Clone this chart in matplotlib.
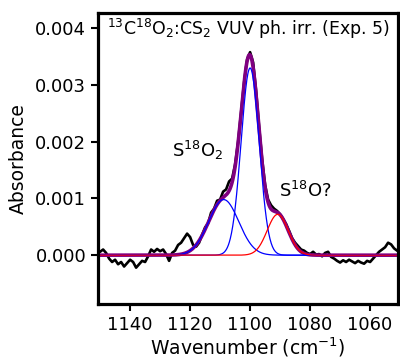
import numpy as np
import matplotlib
matplotlib.use("Agg")
import matplotlib.pyplot as plt

wavenumber = np.arange(1151, 1049, -1)
absorbance = [
    0.00008, 0.00006, 0.00010, 0.00004, -0.00006, -0.00012, -0.00008, -0.00016,
    -0.00012, -0.00020, -0.00014, -0.00008, -0.00012, -0.00022, -0.00016, -0.00010,
    -0.00012, -0.00002, 0.00010, 0.00006, 0.00011, 0.00007, 0.00010, 0.00002,
    -0.00010, 0.00004, 0.00008, 0.00018, 0.00022, 0.00030, 0.00038, 0.00032,
    0.00018, 0.00015, 0.00022, 0.00036, 0.00049, 0.00056, 0.00075, 0.00082,
    0.00096, 0.00098, 0.00112, 0.00116, 0.00130, 0.00135, 0.00160, 0.00200,
    0.00252, 0.00305, 0.00345, 0.00358, 0.00340, 0.00290, 0.00226, 0.00170,
    0.00124, 0.00098, 0.00088, 0.00082, 0.00078, 0.00072, 0.00064, 0.00055,
    0.00043, 0.00030, 0.00022, 0.00016, 0.00010, 0.00008, 0.00004, 0.00002,
    0.00006, 0.00001, 0.00002, -0.00002, 0.00004, 0.00006, -0.00003, -0.00006,
    -0.00010, -0.00013, -0.00009, -0.00012, -0.00008, -0.00011, -0.00014, -0.00010,
    -0.00013, -0.00015, -0.00010, -0.00012, -0.00006, 0.00000, 0.00006, 0.00010,
    0.00014, 0.00022, 0.00019, 0.00012, 0.00008, 0.00006,
]

# gaussian fit components: (centre, amplitude, sigma)
main_peak = (1100.0, 0.0033, 3.0)
shoulder_peak = (1108.8, 0.00098, 5.0)
so_peak = (1090.8, 0.00072, 3.5)


def gauss(x, c, a, s):
    return a * np.exp(-(x - c) ** 2 / (2 * s ** 2))


x = np.linspace(1151, 1050, 1000)
g1 = gauss(x, *main_peak)
g2 = gauss(x, *shoulder_peak)
g3 = gauss(x, *so_peak)
total = g1 + g2 + g3

fig = plt.figure(figsize=(4.0, 3.61), dpi=100)
ax = fig.add_axes([0.245, 0.158, 0.75, 0.806])

ax.plot(wavenumber, absorbance, color="black", lw=1.9)
ax.plot(x, total, color="purple", lw=2.6)
ax.plot(x, g1, color="blue", lw=0.9)
ax.plot(x, g2, color="blue", lw=0.9)
ax.plot(x, g3, color="red", lw=0.9)

ax.set_xlim(1150.7, 1050.7)
ax.set_ylim(-0.00086, 0.00427)
ax.set_xticks([1140, 1120, 1100, 1080, 1060])
ax.set_yticks([0.0, 0.001, 0.002, 0.003, 0.004])
ax.yaxis.set_major_formatter(matplotlib.ticker.FormatStrFormatter("%.3f"))

for sp in ax.spines.values():
    sp.set_linewidth(2.3)
ax.tick_params(labelsize=13, width=1.5, length=5)

ax.set_xlabel("Wavenumber (cm$^{-1}$)", fontsize=13.5, labelpad=1)
ax.set_ylabel("Absorbance", fontsize=13.5, labelpad=5)

ax.text(0.03, 0.985, "$^{13}$C$^{18}$O$_2$:CS$_2$ VUV ph. irr. (Exp. 5)",
        transform=ax.transAxes, fontsize=12.5, va="top", ha="left")
ax.text(1126, 0.00185, "S$^{18}$O$_2$", fontsize=13, va="center")
ax.text(1090.3, 0.00113, "S$^{18}$O?", fontsize=13, va="center")

fig.savefig("out.png", dpi=100)
